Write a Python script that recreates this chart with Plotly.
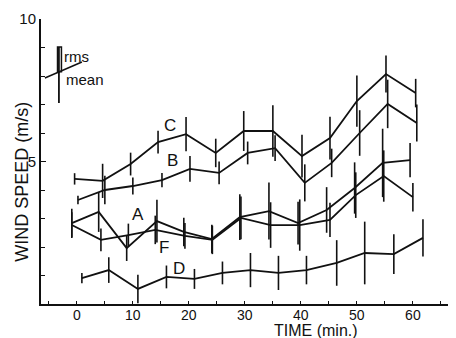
import plotly.graph_objects as go

# ---- data ----
time_c = [-0.4, 4.6, 9.6, 14.5, 19.5, 24.8, 29.8, 35.0, 40.2, 45.2, 50.0, 55.2, 60.5]
mean_c = [4.39, 4.32, 4.91, 5.68, 5.96, 5.30, 6.07, 6.07, 5.19, 5.82, 7.12, 8.07, 7.40]
rms_c = [0.2, 0.6, 0.4, 0.4, 0.6, 0.5, 0.7, 0.9, 0.75, 0.75, 0.9, 0.65, 0.5]

time_b = [0.2, 5.0, 10.0, 15.2, 20.2, 25.4, 30.5, 35.4, 40.7, 45.5, 50.5, 55.5, 60.7]
mean_b = [3.65, 4.00, 4.14, 4.35, 4.74, 4.60, 5.30, 5.47, 4.25, 4.95, 6.00, 7.02, 6.35]
rms_b = [0.15, 0.5, 0.3, 0.25, 0.45, 0.4, 0.4, 0.45, 0.65, 0.5, 0.8, 0.85, 0.65]

time_a = [-0.9, 3.9, 8.9, 14.3, 19.1, 24.1, 29.1, 34.3, 39.5, 44.6, 49.6, 54.6, 59.5]
mean_a = [2.84, 3.23, 1.96, 2.91, 2.53, 2.28, 3.05, 3.26, 2.84, 3.30, 4.07, 4.95, 5.05]
rms_a = [0.5, 0.7, 0.45, 0.75, 0.5, 0.5, 0.8, 1.0, 0.75, 0.8, 0.9, 1.2, 0.6]

time_f = [-0.9, 4.3, 9.2, 14.0, 19.3, 24.2, 29.3, 34.6, 39.8, 45.2, 49.8, 54.8, 60.0]
mean_f = [2.77, 2.25, 2.42, 2.60, 2.39, 2.25, 3.02, 2.77, 2.77, 2.95, 3.82, 4.49, 3.75]
rms_f = [0.45, 0.4, 0.4, 0.5, 0.45, 0.5, 0.75, 0.8, 0.9, 0.6, 0.8, 0.9, 0.5]

time_d = [0.9, 5.7, 10.9, 16.0, 21.0, 26.0, 31.0, 36.0, 41.0, 46.4, 51.4, 56.6, 61.8]
mean_d = [0.91, 1.19, 0.53, 0.95, 0.88, 1.09, 1.19, 1.09, 1.19, 1.44, 1.79, 1.75, 2.32]
rms_d = [0.18, 0.45, 0.5, 0.4, 0.35, 0.4, 0.6, 0.6, 0.5, 0.8, 1.1, 0.7, 0.65]

series_names = ["C", "B", "A", "F", "D"]
x_tick_vals = [0, 10, 20, 30, 40, 50, 60]
y_tick_vals = [5, 10]

FONT = "Liberation Sans"
INK = "#111111"

fig = go.Figure()
for name, t, m, r in [("C", time_c, mean_c, rms_c), ("B", time_b, mean_b, rms_b),
                      ("A", time_a, mean_a, rms_a), ("F", time_f, mean_f, rms_f),
                      ("D", time_d, mean_d, rms_d)]:
    fig.add_trace(go.Scatter(
        x=t, y=m, mode="lines", name=name,
        line=dict(color=INK, width=1.8),
        error_y=dict(type="data", array=r, visible=True, color=INK, thickness=1.6, width=0),
        showlegend=False,
    ))

# series labels
label_pos = {"C": (16.6, 6.28), "B": (17.0, 5.05), "A": (10.9, 3.15), "F": (15.6, 1.98), "D": (18.2, 1.26)}
for n in series_names:
    lx, ly = label_pos[n]
    fig.add_annotation(x=lx, y=ly, text=n, showarrow=False, xref="x", yref="y",
                       font=dict(family=FONT, size=17, color=INK))

# key glyph (rms / mean)
fig.add_shape(type="rect", x0=-3.45, x1=-2.75, y0=8.15, y1=9.02, line=dict(color=INK, width=1.5), xref="x", yref="y")
fig.add_shape(type="line", x0=-3.2, x1=-3.2, y0=7.05, y1=9.02, line=dict(color=INK, width=1.8), xref="x", yref="y")
fig.add_shape(type="line", x0=-5.7, x1=0.9, y0=7.93, y1=8.49, line=dict(color=INK, width=1.5), xref="x", yref="y")
fig.add_annotation(x=-2.7, y=8.67, text="rms", showarrow=False, xanchor="left",
                   font=dict(family=FONT, size=15, color=INK))
fig.add_annotation(x=-2.3, y=7.86, text="mean", showarrow=False, xanchor="left",
                   font=dict(family=FONT, size=15, color=INK))

# axis titles
fig.add_annotation(x=42.7, y=-0.092, xref="x", yref="paper", text="TIME (min.)", showarrow=False,
                   font=dict(family=FONT, size=16, color=INK), yanchor="middle", borderpad=0)
fig.add_annotation(x=-0.045, y=0.43, xref="paper", yref="paper", text="WIND SPEED (m/s)", showarrow=False,
                   textangle=-90, font=dict(family=FONT, size=18, color=INK), xanchor="center", yanchor="middle")

# the page body adds an 8px offset, margins compensate for it
fig.update_layout(
    width=456, height=338,
    margin=dict(l=33, r=8, t=11, b=42, autoexpand=False),
    paper_bgcolor="white", plot_bgcolor="white",
    font=dict(family=FONT, color=INK),
    xaxis=dict(range=[-6.4, 67.7], showgrid=False, zeroline=False, showline=True, linecolor=INK, linewidth=2,
               automargin=False, ticklabelstandoff=-3,
               tickvals=x_tick_vals, ticks="inside", ticklen=3, tickcolor=INK,
               minor=dict(dtick=5, tick0=0, ticks="inside", ticklen=3, tickcolor=INK),
               tickfont=dict(family=FONT, size=14, color=INK)),
    yaxis=dict(range=[0, 10], showgrid=False, zeroline=False, showline=True, linecolor=INK, linewidth=2,
               automargin=False,
               tickvals=y_tick_vals, ticks="inside", ticklen=5, tickcolor=INK,
               minor=dict(dtick=1, tick0=0, ticks="inside", ticklen=4, tickcolor=INK),
               tickfont=dict(family=FONT, size=15, color=INK)),
)

fig.write_html("out.html")
